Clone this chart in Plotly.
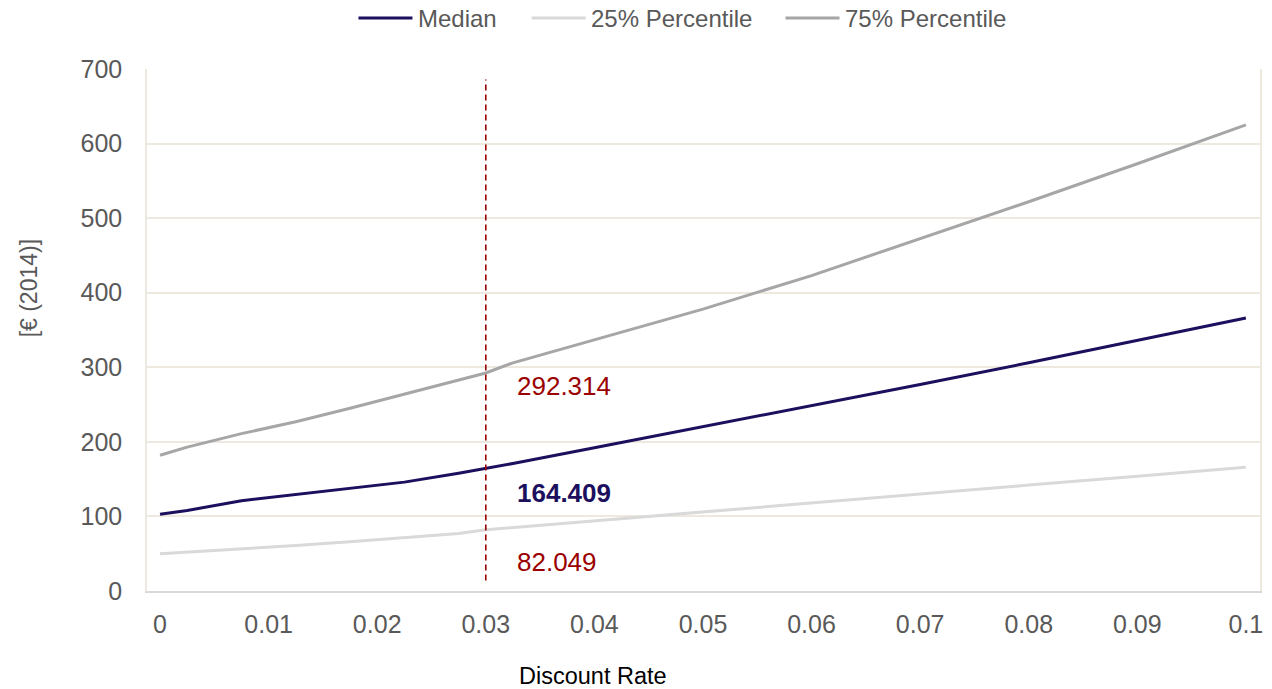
import plotly.graph_objects as go

# Discount rates at which the percentiles were evaluated
discount_rate = [0, 0.0025, 0.0075, 0.0125, 0.0175, 0.0225, 0.0275, 0.03, 0.0325,
                 0.04, 0.05, 0.06, 0.07, 0.08, 0.09, 0.1]

median = [103, 108, 121, 129, 137, 146, 158, 164.409, 171,
          192, 220, 248, 277, 306, 336, 366]
p25 = [50, 52, 57, 61, 66, 71, 77, 82.049, 85,
       94, 106, 118, 130, 142, 154, 166]
p75 = [182, 193, 211, 227, 245, 264, 283, 292.314, 306,
       337, 378, 423, 472, 522, 573, 625]

series_names = ["Median", "25% Percentile", "75% Percentile"]

# Reference discount rate marker and its value labels
ref_rate = 0.03
ref_line_y = [14, 686]
ref_values = [292.314, 164.409, 82.049]
ref_label_y = [275, 131, 39]

x_ticks = [0, 0.01, 0.02, 0.03, 0.04, 0.05, 0.06, 0.07, 0.08, 0.09, 0.1]
x_tick_text = ["0", "0.01", "0.02", "0.03", "0.04", "0.05", "0.06", "0.07", "0.08", "0.09", "0.1"]
y_ticks = [0, 100, 200, 300, 400, 500, 600, 700]

FONT = "Liberation Sans, Arial, sans-serif"
NAVY = "#1b0f5e"
RED = "#9b0000"
GRID = "#ede9df"
TEXT = "#595959"
series_colors = [NAVY, "#d9d9d9", "#a6a6a6"]

fig = go.Figure()
for name, ys, col in zip(series_names, [median, p25, p75], series_colors):
    fig.add_trace(go.Scatter(x=discount_rate, y=ys, mode="lines", name=name,
                             showlegend=False, line=dict(color=col, width=3)))
fig.add_trace(go.Scatter(x=[ref_rate, ref_rate], y=ref_line_y, mode="lines",
                         showlegend=False, hoverinfo="skip",
                         line=dict(color=RED, width=1.6, dash="6px,4px")))

label_colors = [RED, NAVY, RED]
label_bold = [False, True, False]
for v, ly, c, b in zip(ref_values, ref_label_y, label_colors, label_bold):
    txt = f"{v:.3f}"
    fig.add_annotation(x=ref_rate + 0.0027, y=ly, xref="x", yref="y",
                       text=f"<b>{txt}</b>" if b else txt, showarrow=False,
                       xanchor="left", yanchor="middle",
                       font=dict(family=FONT, size=26, color=c))

# Legend across the top: a line swatch followed by the series name
legend_y = 1.0977
swatch_x0 = [0.1900, 0.3456, 0.5737]
swatch_len = 0.0485
for name, col, x0 in zip(series_names, series_colors, swatch_x0):
    fig.add_shape(type="line", xref="paper", yref="paper",
                  x0=x0, x1=x0 + swatch_len, y0=legend_y, y1=legend_y,
                  line=dict(color=col, width=3))
    fig.add_annotation(x=x0 + swatch_len + 0.003, y=legend_y, xref="paper", yref="paper",
                       text=name, showarrow=False, xanchor="left", yanchor="middle",
                       font=dict(family=FONT, size=24, color=TEXT))

fig.add_annotation(x=-0.1059, y=0.580, xref="paper", yref="paper", text="[€ (2014)]",
                   textangle=-90, showarrow=False, xanchor="center", yanchor="middle",
                   font=dict(family=FONT, size=23, color=TEXT))
fig.add_annotation(x=0.4004, y=-0.1619, xref="paper", yref="paper", text="Discount Rate",
                   showarrow=False, xanchor="center", yanchor="middle",
                   font=dict(family=FONT, size=23.5, color="#000000"))

fig.update_layout(
    width=1272, height=689,
    margin=dict(l=147, r=12, t=69, b=98, autoexpand=False),
    paper_bgcolor="white", plot_bgcolor="white",
    font=dict(family=FONT, color=TEXT),
    showlegend=False,
    xaxis=dict(range=[-0.0012, 0.1013], tickvals=x_ticks, ticktext=x_tick_text,
               showgrid=False, zeroline=False, showline=True, linecolor="#d9d9d9",
               linewidth=2, ticks="", ticklabelstandoff=10,
               tickfont=dict(family=FONT, size=25, color=TEXT)),
    yaxis=dict(range=[0, 700], tickvals=y_ticks, showgrid=True, gridcolor=GRID,
               gridwidth=1.5, zeroline=False, showline=True, linecolor=GRID,
               linewidth=1.5, mirror=True, ticks="", ticklabelstandoff=18,
               tickfont=dict(family=FONT, size=25, color=TEXT)),
)

fig.write_html("out.html")
